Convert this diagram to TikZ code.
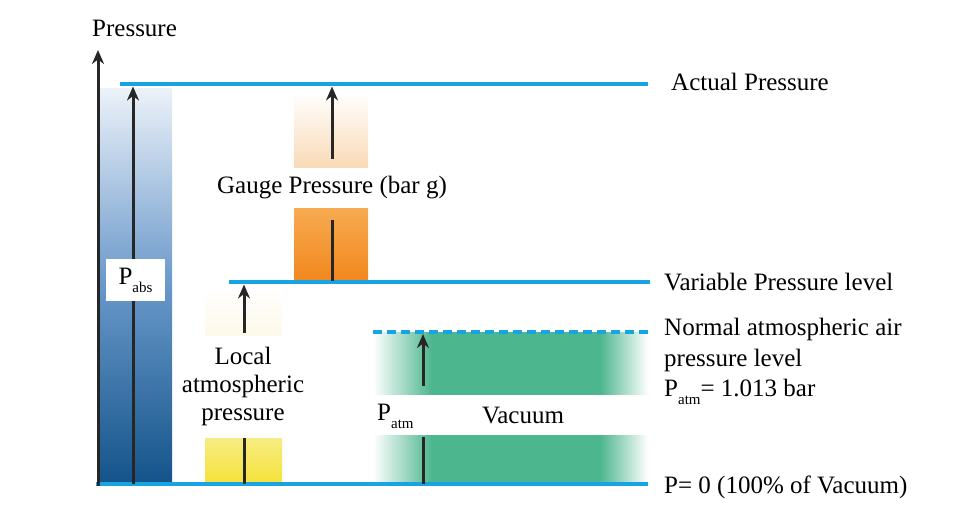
\documentclass[tikz,border=0pt]{standalone}
\usepackage{fontspec}
\setmainfont{Liberation Serif}
\newfontfamily\tnr{Liberation Serif}
\usetikzlibrary{arrows.meta}
\definecolor{lineblue}{RGB}{24,164,226}
\definecolor{colbluetop}{RGB}{236,242,249}
\definecolor{colbluemid}{RGB}{105,152,202}
\definecolor{colbluebot}{RGB}{20,84,138}
\definecolor{vgreen}{RGB}{76,182,142}
\definecolor{oranglt}{RGB}{249,218,182}
\definecolor{orangtop}{RGB}{247,170,80}
\definecolor{orangbot}{RGB}{242,136,30}
\definecolor{yeltop}{RGB}{247,236,130}
\definecolor{yelbot}{RGB}{245,226,60}
\definecolor{creampale}{RGB}{253,249,234}
\tikzset{
  level/.style={draw=lineblue,line width=4.5pt},
  arr/.style={draw=black!85,line width=3pt,-{Stealth[length=14pt,width=12pt]}},
  seg/.style={draw=black!85,line width=3pt},
  lbl/.style={inner sep=0pt,anchor=west}
}
\newcommand{\subtx}[1]{\raisebox{-0.32em}{\fontsize{15}{15}\selectfont #1}}
\begin{document}
\begin{tikzpicture}[x=1pt,y=-1pt,font=\tnr\fontsize{25}{30}\selectfont]
\useasboundingbox (0,0) rectangle (980,512);
% blue column
\shade[top color=colbluetop,bottom color=colbluebot,middle color=colbluemid] (100,88) rectangle (172,482);
% gauge boxes
\shade[top color=white,bottom color=oranglt] (294,92) rectangle (368,167);
\shade[top color=orangtop,bottom color=orangbot] (294,208) rectangle (368,280);
% local atmospheric boxes
\shade[top color=white,bottom color=creampale] (205,286) rectangle (282,335);
\shade[top color=yeltop,bottom color=yelbot] (205,438) rectangle (282,482);
% vacuum area
\shade[left color=white,right color=vgreen] (373,332) rectangle (432,482);
\fill[vgreen] (432,332) rectangle (600,482);
\shade[left color=vgreen,right color=white] (600,332) rectangle (648,482);
\fill[white] (370,395) rectangle (650,435);

% coordinates
\coordinate (axisB) at (98,486);
\coordinate (axisT) at (98,50);
\coordinate (actL) at (120,84);
\coordinate (actR) at (648,84);
\coordinate (varL) at (229,282);
\coordinate (varR) at (650,282);
\coordinate (nrmL) at (373,332);
\coordinate (nrmR) at (650,332);
\coordinate (zeroL) at (96,484);
\coordinate (zeroR) at (648,484);

% level lines
\draw[level] (actL) -- (actR);
\draw[level] (varL) -- (varR);
\draw[level,dash pattern=on 9pt off 5pt] (nrmL) -- (nrmR);
\draw[level] (zeroL) -- (zeroR);

% axis
\draw[arr] (axisB) -- (axisT);

% Pabs arrow
\node[fill=white,minimum width=59pt,minimum height=42pt,inner sep=0pt] (pabs) at (135.5,280) {P\subtx{abs}};
\coordinate (pabsB) at (133,484);
\coordinate (pabsT) at (133,86.5);
\draw[seg] (pabsB) -- (pabs.south -| pabsB);
\draw[arr] (pabs.north -| pabsB) -- (pabsT);

% gauge arrow
\node[inner sep=0pt] (gauge) at (332,188) {Gauge Pressure (bar g)};
\coordinate (gB) at (332,281);
\coordinate (gLo) at (332,220);
\coordinate (gHi) at (332,159);
\coordinate (gT) at (332,86.5);
\draw[seg] (gB) -- (gLo);
\draw[arr] (gHi) -- (gT);

% local atmospheric arrow
\node[inner sep=0pt,align=center,font=\tnr\fontsize{25}{28}\selectfont] (local) at (243,386) {Local\\atmospheric\\pressure};
\coordinate (lB) at (244,484);
\coordinate (lLo) at (244,438);
\coordinate (lHi) at (244,333);
\coordinate (lT) at (244,284.5);
\draw[seg] (lB) -- (lLo);
\draw[arr] (lHi) -- (lT);

% patm arrow
\node[inner sep=0pt,anchor=west] (patm) at (377,416) {P\subtx{atm}};
\node[inner sep=0pt] (vac) at (523,415) {Vacuum};
\coordinate (aB) at (423,484);
\coordinate (aLo) at (423,437);
\coordinate (aHi) at (423,386);
\coordinate (aT) at (423,334);
\draw[seg] (aB) -- (aLo);
\draw[arr] (aHi) -- (aT);

% top label
\node[inner sep=0pt,anchor=west] (ptitle) at (92,28) {Pressure};

% right labels
\node[lbl] (tAct) at (671,82) {Actual Pressure};
\node[lbl] (tVar) at (664,282) {Variable Pressure level};
\node[lbl,align=left,anchor=north west,font=\tnr\fontsize{25}{30.5}\selectfont] (tNrm) at (664,318) {Normal atmospheric air\\pressure level\\P\subtx{atm}= 1.013 bar};
\node[lbl] (tZero) at (664,487) {P= 0 (100\% of Vacuum)};
\end{tikzpicture}
\end{document}
